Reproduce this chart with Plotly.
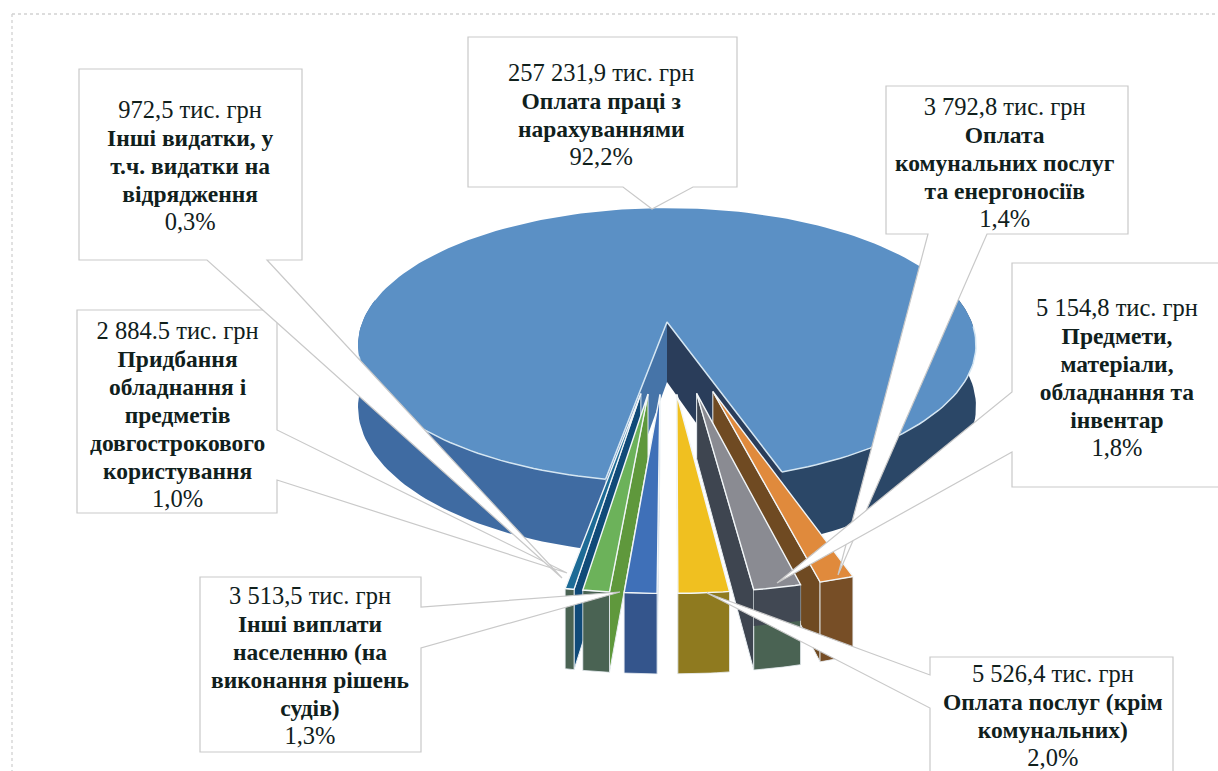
import math
import plotly.graph_objects as go

# ---------- data (in pie order, clockwise from the main slice's right edge) ----------
CATEGORIES = ["Оплата комунальних послуг та енергоносіїв",
              "Предмети, матеріали, обладнання та інвентар",
              "Оплата послуг (крім комунальних)",
              "Інші виплати населенню (на виконання рішень судів)",
              "Придбання обладнання і предметів довгострокового користування",
              "Інші видатки, у т.ч. видатки на відрядження",
              "Оплата праці з нарахуваннями"]
VALUES = [3792.8, 5154.8, 5526.4, 3513.5, 2884.5, 972.5, 257231.9]

LABEL_MAIN = ["257 231,9 тис. грн", ["Оплата праці з", "нарахуваннями"], "92,2%"]
LABEL_OTHER = ["972,5 тис. грн", ["Інші видатки, у", "т.ч. видатки на", "відрядження"], "0,3%"]
LABEL_EQUIP = ["2 884.5 тис. грн", ["Придбання", "обладнання і", "предметів", "довгострокового", "користування"], "1,0%"]
LABEL_PAY = ["3 513,5 тис. грн", ["Інші виплати", "населенню (на", "виконання рішень", "судів)"], "1,3%"]
LABEL_SERV = ["5 526,4 тис. грн", ["Оплата послуг (крім", "комунальних)"], "2,0%"]
LABEL_MAT = ["5 154,8 тис. грн", ["Предмети,", "матеріали,", "обладнання та", "інвентар"], "1,8%"]
LABEL_UTIL = ["3 792,8 тис. грн", ["Оплата", "комунальних послуг", "та енергоносіїв"], "1,4%"]

# ---------- 3D projection ----------
CX, CY = 667.0, 322.0
A, B, K = 304.6, 133.0, 0.168
DEPTH = 60.0
START = 18.5      # degrees, measured from the viewer direction, positive to the right
EXPLODE = 0.50
RADIUS = 1.02


def project(u, v, z=0.0):
    w = 1 - K * v
    return CX + A * u / w, CY + (B * v + z * DEPTH) / w


def rad(a):
    return math.radians(a)


def rim(cu, cv, r, a0, a1, z=0.0, n=None):
    n = n or max(3, int(abs(a1 - a0) / 1.5))
    pts = []
    for i in range(n + 1):
        a = rad(a0 + (a1 - a0) * i / n)
        pts.append(project(cu + r * math.sin(a), cv + r * math.cos(a), z))
    return pts


total = sum(VALUES)
angles = []
a = START
for val in VALUES:
    b = a - val / total * 360
    angles.append((a, b))
    a = b

fig = go.Figure()


def poly(pts, fill, line="rgba(255,255,255,0)", width=0):
    fig.add_trace(go.Scatter(x=[p[0] for p in pts] + [pts[0][0]],
                             y=[p[1] for p in pts] + [pts[0][1]],
                             mode="lines", fill="toself", fillcolor=fill,
                             line=dict(color=line, width=width),
                             hoverinfo="skip", showlegend=False))


def path(pts, color, width):
    fig.add_trace(go.Scatter(x=[p[0] for p in pts], y=[p[1] for p in pts], mode="lines",
                             line=dict(color=color, width=width),
                             hoverinfo="skip", showlegend=False))


# main slice: runs from the gap's left edge round the back to the gap's right edge
m0, m1 = angles[6]
right_front = rim(0, 0, 1, START, 100)
right_front_bot = rim(0, 0, 1, START, 100, 1)
left_front = rim(0, 0, 1, m0, m0 - 90)
left_front_bot = rim(0, 0, 1, m0, m0 - 90, 1)
poly(left_front + left_front_bot[::-1], "#3f6ba2")
poly(right_front + right_front_bot[::-1], "#2b4767")
# inner walls of the gap
p0, p0b = project(0, 0), project(0, 0, 1)
poly([p0, left_front[0], left_front_bot[0], p0b], "#4674a8")
poly([p0, right_front[0], right_front_bot[0], p0b], "#2a3d5a")
# top face
top = [p0] + rim(0, 0, 1, m0, m1, 0, 180)
poly(top, "#5b90c5")
path(rim(0, 0, 1, START, 88), "#d5e6f2", 1.5)
path(rim(0, 0, 1, m0, m0 - 66), "#d5e6f2", 1.5)
path([right_front[0], p0, left_front[0]], "#d5e6f2", 1.5)

# exploded small slices
STYLE = {
    0: dict(top="#e08a3c", wall="#6f4a22", front=["#774e26"], side=1),
    1: dict(top="#8a8b92", wall="#3e4550", front=["#414853", "#4a6353"], side=1),
    2: dict(top="#f0c020", wall="#8f7a1f", front=["#8f7a1f"], side=1),
    3: dict(top="#3f70b8", wall="#3a68a8", front=["#34558c"], side=-1),
    4: dict(top="#6cb25a", wall="#5f983c", front=["#4a6353"], side=-1),
    5: dict(top="#1d6b96", wall="#104a78", front=["#4a6353"], side=-1),
}
for i in [5, 4, 3, 0, 1, 2]:
    s = STYLE[i]
    a0, a1 = angles[i]
    mid = rad((a0 + a1) / 2)
    cu, cv = EXPLODE * math.sin(mid), EXPLODE * math.cos(mid)
    apex = project(cu, cv)
    apex_b = project(cu, cv, 1)
    edge = a1 if s["side"] > 0 else a0
    etop = rim(cu, cv, RADIUS, edge, edge, 0, 1)[0]
    ebot = rim(cu, cv, RADIUS, edge, edge, 1, 1)[0]
    poly([apex, etop, ebot, apex_b], s["wall"], "#e8eef2", 1)
    rt = rim(cu, cv, RADIUS, a0, a1, 0, 8)
    rb = rim(cu, cv, RADIUS, a0, a1, 1, 8)
    if len(s["front"]) == 1:
        poly(rt + rb[::-1], s["front"][0], "#e8eef2", 0.8)
    else:
        poly(rt + rb[::-1], s["front"][1], "#e8eef2", 0.8)
        rm = rim(cu, cv, RADIUS, a0, a1, 0.45, 8)
        poly(rt + rm[::-1], s["front"][0])
    poly([apex] + rt, s["top"], "#f2f6f8", 1.4)


def label_html(label):
    value, bold_lines, pct = label
    reg = "<span style='font-size:24.5px'>%s</span>"
    bold = "<span style='font-size:23.5px'><b>%s</b></span>"
    return "<br>".join([reg % value] + [bold % t for t in bold_lines] + [reg % pct])


# ---------- callouts: box, tail base and tip, then label ----------
CALLOUTS = [
    (77, 277, 310, 513, [(277, 430), (567, 573), (277, 480)], LABEL_EQUIP, 177, 414),
    (79, 302, 69, 260, [(267, 260), (562, 578), (207, 260)], LABEL_OTHER, 190, 165),
    (468, 737, 37, 187, [(693, 187), (652, 209), (623, 187)], LABEL_MAIN, 601, 114),
    (886, 1128, 86, 234, [(987, 234), (838, 575), (928, 234)], LABEL_UTIL, 1005, 162),
    (1012, 1240, 263, 487, [(1012, 392), (777, 583), (1012, 452)], LABEL_MAT, 1117, 377),
    (200, 421, 577, 752, [(421, 607), (620, 592), (421, 648)], LABEL_PAY, 310, 665),
    (930, 1173, 657, 790, [(930, 675), (707, 593), (930, 708)], LABEL_SERV, 1053, 715),
]
shapes = []
annots = []
for x0, x1, y0, y1, tail, text, tx, ty in CALLOUTS:
    # outline walks clockwise and detours through the tail on the side it leaves from
    if tail[0][1] == y1:          # bottom edge, walking right to left
        pts = [(x0, y0), (x1, y0), (x1, y1)] + tail + [(x0, y1)]
    elif tail[0][0] == x1:        # right edge, walking downward
        pts = [(x0, y0), (x1, y0)] + tail + [(x1, y1), (x0, y1)]
    else:                         # left edge, walking upward
        pts = [(x0, y0), (x1, y0), (x1, y1), (x0, y1)] + tail[::-1]
    d = "M " + " L ".join(f"{px},{py}" for px, py in pts) + " Z"
    shapes.append(dict(type="path", path=d, xref="x", yref="y", fillcolor="white",
                       line=dict(color="#c9c9c9", width=1.2), layer="above"))
    annots.append(dict(x=tx, y=ty, xref="x", yref="y", text=label_html(text), showarrow=False,
                       xanchor="center", yanchor="middle", align="center",
                       font=dict(family="Liberation Serif", size=21.5, color="#10201c")))

# faint outer frame
for fx0, fy0, fx1, fy1 in [(12, 14, 1218, 14), (12, 14, 12, 771)]:
    shapes.insert(0, dict(type="line", x0=fx0, y0=fy0, x1=fx1, y1=fy1, xref="x", yref="y",
                          line=dict(color="#d2d2d2", width=1.3, dash="dot"), layer="below"))

fig.update_layout(width=1218, height=771, margin=dict(l=0, r=0, t=0, b=0),
                  paper_bgcolor="white", plot_bgcolor="white", showlegend=False,
                  xaxis=dict(range=[0, 1218], visible=False, fixedrange=True),
                  yaxis=dict(range=[771, 0], visible=False, fixedrange=True),
                  shapes=shapes, annotations=annots)

fig.write_html("out.html", config={"displayModeBar": False},
               post_script="document.body.style.margin='0';document.body.style.overflow='hidden';")
